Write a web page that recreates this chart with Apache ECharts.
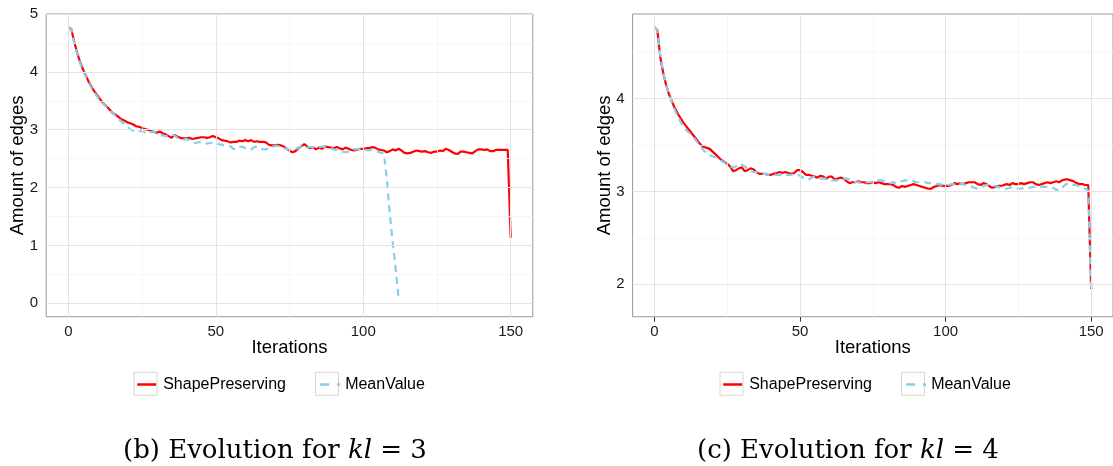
<!DOCTYPE html>
<html>
<head>
<meta charset="utf-8">
<script src="https://cdn.jsdelivr.net/npm/echarts@6/dist/echarts.min.js"></script>
<style>html,body{margin:0;padding:0;background:#fff;}#c{width:1113px;height:466px;}</style>
</head>
<body>
<div id="c"></div>
<script>
// ---- data ----
const seriesNames = ['ShapePreserving', 'MeanValue'];
const xTicks = [0, 50, 100, 150];
const xMinor = [25, 75, 125];
const yTicksB = [0, 1, 2, 3, 4, 5];
const yMinorB = [0.5, 1.5, 2.5, 3.5, 4.5];
const yTicksC = [2, 3, 4];
const yMinorC = [2.5, 3.5, 4.5];
const captionB = ['(b) Evolution for ', 'kl', ' = 3'];
const captionC = ['(c) Evolution for ', 'kl', ' = 4'];

// (b) kl = 3, iterations 0..150
const shapeB = [4.77,4.74,4.52,4.33,4.17,4.04,3.93,3.82,3.73,3.65,
3.58,3.51,3.45,3.40,3.35,3.29,3.26,3.22,3.18,3.16,
3.13,3.11,3.09,3.06,3.05,3.03,3.01,3.00,2.98,2.96,
2.95,2.97,2.94,2.92,2.89,2.86,2.91,2.88,2.86,2.85,
2.85,2.86,2.84,2.85,2.86,2.87,2.87,2.86,2.87,2.89,
2.87,2.85,2.82,2.81,2.80,2.78,2.79,2.79,2.81,2.80,
2.82,2.80,2.82,2.79,2.80,2.79,2.79,2.78,2.74,2.73,
2.73,2.74,2.73,2.71,2.67,2.64,2.61,2.63,2.68,2.71,
2.75,2.71,2.68,2.70,2.66,2.69,2.67,2.71,2.70,2.69,
2.68,2.70,2.68,2.66,2.69,2.67,2.65,2.64,2.66,2.67,
2.67,2.68,2.68,2.70,2.69,2.66,2.65,2.64,2.61,2.63,
2.66,2.64,2.67,2.64,2.60,2.59,2.60,2.62,2.64,2.63,
2.62,2.63,2.61,2.60,2.62,2.62,2.64,2.63,2.67,2.65,
2.62,2.59,2.58,2.62,2.62,2.61,2.60,2.59,2.63,2.66,
2.66,2.65,2.66,2.63,2.63,2.65,2.65,2.65,2.65,2.65,
1.13];
const meanB = [4.77,4.74,4.50,4.31,4.15,4.02,3.91,3.80,3.71,3.63,
3.56,3.50,3.44,3.39,3.34,3.29,3.24,3.19,3.14,3.10,
3.05,3.01,2.98,2.97,2.97,2.98,2.95,2.93,2.96,2.97,
2.94,2.91,2.90,2.89,2.90,2.92,2.90,2.86,2.84,2.83,
2.84,2.82,2.79,2.77,2.78,2.79,2.78,2.76,2.77,2.78,
2.77,2.75,2.74,2.73,2.72,2.71,2.67,2.66,2.70,2.71,
2.68,2.67,2.66,2.70,2.71,2.68,2.66,2.66,2.68,2.70,
2.72,2.72,2.70,2.68,2.67,2.66,2.65,2.67,2.69,2.71,
2.70,2.71,2.70,2.70,2.71,2.70,2.71,2.70,2.69,2.68,
2.66,2.65,2.64,2.62,2.61,2.62,2.64,2.66,2.67,2.66,
2.65,2.65,2.64,2.66,2.64,2.62,2.60,2.60,2.15,1.55,
1.05,0.60,0.08];

// (c) kl = 4, iterations 0..150
const shapeC = [4.77,4.74,4.45,4.28,4.15,4.05,3.97,3.90,3.84,3.79,
3.74,3.70,3.66,3.62,3.58,3.54,3.50,3.48,3.47,3.46,
3.43,3.40,3.37,3.34,3.32,3.30,3.27,3.22,3.23,3.25,
3.26,3.22,3.23,3.25,3.24,3.21,3.19,3.19,3.19,3.18,
3.18,3.19,3.20,3.21,3.20,3.21,3.20,3.19,3.20,3.23,
3.23,3.21,3.18,3.18,3.17,3.16,3.15,3.17,3.16,3.14,
3.16,3.16,3.13,3.14,3.15,3.14,3.11,3.09,3.10,3.10,
3.11,3.10,3.10,3.09,3.09,3.10,3.09,3.10,3.09,3.08,
3.08,3.08,3.07,3.05,3.04,3.06,3.05,3.06,3.07,3.08,
3.07,3.06,3.05,3.04,3.03,3.03,3.05,3.06,3.07,3.06,
3.06,3.06,3.07,3.09,3.08,3.09,3.08,3.09,3.10,3.10,
3.10,3.08,3.07,3.09,3.08,3.06,3.04,3.05,3.06,3.06,
3.07,3.08,3.07,3.09,3.08,3.08,3.09,3.08,3.09,3.10,
3.10,3.08,3.07,3.08,3.09,3.10,3.09,3.10,3.11,3.10,
3.12,3.13,3.13,3.12,3.11,3.09,3.08,3.08,3.07,3.07,
1.95];
const meanC = [4.77,4.74,4.46,4.29,4.15,4.05,3.96,3.88,3.81,3.75,
3.70,3.66,3.63,3.60,3.56,3.52,3.48,3.44,3.41,3.39,
3.38,3.37,3.35,3.33,3.31,3.29,3.27,3.26,3.27,3.30,
3.29,3.27,3.25,3.22,3.21,3.21,3.20,3.19,3.19,3.18,
3.18,3.18,3.18,3.18,3.17,3.17,3.18,3.18,3.19,3.19,
3.17,3.15,3.14,3.13,3.15,3.16,3.15,3.14,3.14,3.14,
3.13,3.12,3.12,3.12,3.13,3.14,3.14,3.13,3.11,3.10,
3.10,3.09,3.09,3.10,3.10,3.10,3.11,3.12,3.12,3.11,
3.10,3.09,3.10,3.09,3.10,3.11,3.12,3.12,3.12,3.11,
3.10,3.10,3.10,3.10,3.09,3.09,3.09,3.08,3.08,3.07,
3.07,3.07,3.08,3.08,3.08,3.09,3.08,3.07,3.06,3.05,
3.04,3.03,3.04,3.06,3.07,3.07,3.07,3.06,3.05,3.04,
3.03,3.03,3.04,3.05,3.04,3.03,3.03,3.04,3.04,3.04,
3.05,3.05,3.05,3.05,3.05,3.05,3.05,3.04,3.02,3.01,
3.04,3.07,3.09,3.08,3.07,3.07,3.05,3.04,3.03,3.01,
1.90];

// ---- helpers ----
const pairs = arr => arr.map((v, i) => [i, v]);
const RED = '#ff0000', BLUE = '#87ceeb';
const BORDER = '#999999', TICK = '#333333', MAJOR = '#e3e3e3', MINOR = '#f4f4f4';
const FONT = 'Liberation Sans';

function gridLines(idx, yMajor, yMinor) {
  const ml = (arr, key, color) => arr.map(v => ({ [key]: v, lineStyle: { color: color, width: color === MAJOR ? 1.1 : 0.8, type: 'solid' } }));
  return {
    type: 'line', name: 'grid' + idx, xAxisIndex: idx, yAxisIndex: idx, data: [], z: 0,
    silent: true, animation: false,
    markLine: {
      silent: true, symbol: ['none', 'none'], label: { show: false }, animation: false,
      emphasis: { disabled: true },
      data: [].concat(ml(xMinor, 'xAxis', MINOR), ml(yMinor, 'yAxis', MINOR),
                      ml(xTicks, 'xAxis', MAJOR), ml(yMajor, 'yAxis', MAJOR))
    }
  };
}
function xAx(idx) {
  return {
    type: 'value', gridIndex: idx, min: -7.5, max: 157.5,
    splitLine: { show: false }, axisLine: { show: false },
    axisTick: { show: true, customValues: xTicks, length: 5, lineStyle: { color: TICK } },
    axisLabel: { customValues: xTicks, fontSize: 15, color: '#1a1a1a', margin: 8, fontFamily: FONT },
    name: 'Iterations', nameLocation: 'middle', nameGap: 22, nameMoveOverlap: false,
    nameTextStyle: { fontSize: 18.5, color: '#000', fontFamily: FONT }
  };
}
function yAx(idx, min, max, ticks, gap) {
  return {
    type: 'value', gridIndex: idx, min: min, max: max,
    splitLine: { show: false }, axisLine: { show: false },
    axisTick: { show: true, customValues: ticks, length: 5, lineStyle: { color: TICK } },
    axisLabel: { customValues: ticks, fontSize: 15, color: '#1a1a1a', margin: 8, fontFamily: FONT },
    name: 'Amount of edges', nameLocation: 'middle', nameGap: gap, nameMoveOverlap: false,
    nameTextStyle: { fontSize: 18.5, color: '#000', fontFamily: FONT }
  };
}
function lineSeries(idx, name, data, color, dashed) {
  return {
    type: 'line', name: name, xAxisIndex: idx, yAxisIndex: idx, data: pairs(data),
    symbol: 'none', showSymbol: false, animation: false, z: dashed ? 4 : 3,
    lineStyle: { color: color, width: 2.2, type: dashed ? [7, 5] : 'solid' },
    itemStyle: { color: color }
  };
}
function legend(left) {
  return {
    data: [
      { name: seriesNames[0], lineStyle: { type: [0, 2, 19, 2], dashOffset: 0, width: 2.4 } },
      { name: seriesNames[1], lineStyle: { type: [9, 8], dashOffset: 14, width: 2.4 } }
    ],
    left: left, top: 375.3, orient: 'horizontal', padding: 0,
    itemWidth: 23, itemHeight: 23, itemGap: 30,
    itemStyle: { opacity: 0 },
    textStyle: { fontSize: 16, color: '#000', fontFamily: FONT },
    selectedMode: false
  };
}
function caption(parts, left) {
  const base = { fontFamily: 'DejaVu Serif', fontSize: 26, fontWeight: 'normal', color: '#000' };
  return {
    text: '{n|' + parts[0] + '}{i|' + parts[1] + '}{n|' + parts[2] + '}',
    left: left, top: 438, padding: 0,
    textStyle: { fontWeight: 'normal', rich: {
      n: base,
      i: Object.assign({}, base, { fontStyle: 'italic' })
    } }
  };
}
function keyBox(x) {
  return { type: 'rect', shape: { x: x, y: 372.3, width: 23, height: 23 }, z: -1,
           style: { fill: '#fff', stroke: '#d6d6d6', lineWidth: 1 } };
}

const chart = echarts.init(document.getElementById('c'), null, { renderer: 'canvas' });
chart.setOption({
  backgroundColor: '#fff',
  animation: false,
  title: [caption(captionB, 123), caption(captionC, 697)],
  legend: [legend(134), legend(720)],
  grid: [
    { left: 46.2, top: 14, width: 486.6, height: 302.7, show: true, borderColor: BORDER, borderWidth: 1, backgroundColor: 'transparent' },
    { left: 632.6, top: 14, width: 486.2, height: 302.7, show: true, borderColor: BORDER, borderWidth: 1, backgroundColor: 'transparent' }
  ],
  xAxis: [xAx(0), xAx(1)],
  yAxis: [yAx(0, -0.232, 5.0, yTicksB, 19), yAx(1, 1.651, 4.913, yTicksC, 18)],
  graphic: [keyBox(134), keyBox(315.5), keyBox(720), keyBox(901.5)],
  series: [
    gridLines(0, yTicksB, yMinorB),
    gridLines(1, yTicksC, yMinorC),
    lineSeries(0, seriesNames[0], shapeB, RED, false),
    lineSeries(0, seriesNames[1], meanB, BLUE, true),
    lineSeries(1, seriesNames[0], shapeC, RED, false),
    lineSeries(1, seriesNames[1], meanC, BLUE, true)
  ]
});
</script>
</body>
</html>
